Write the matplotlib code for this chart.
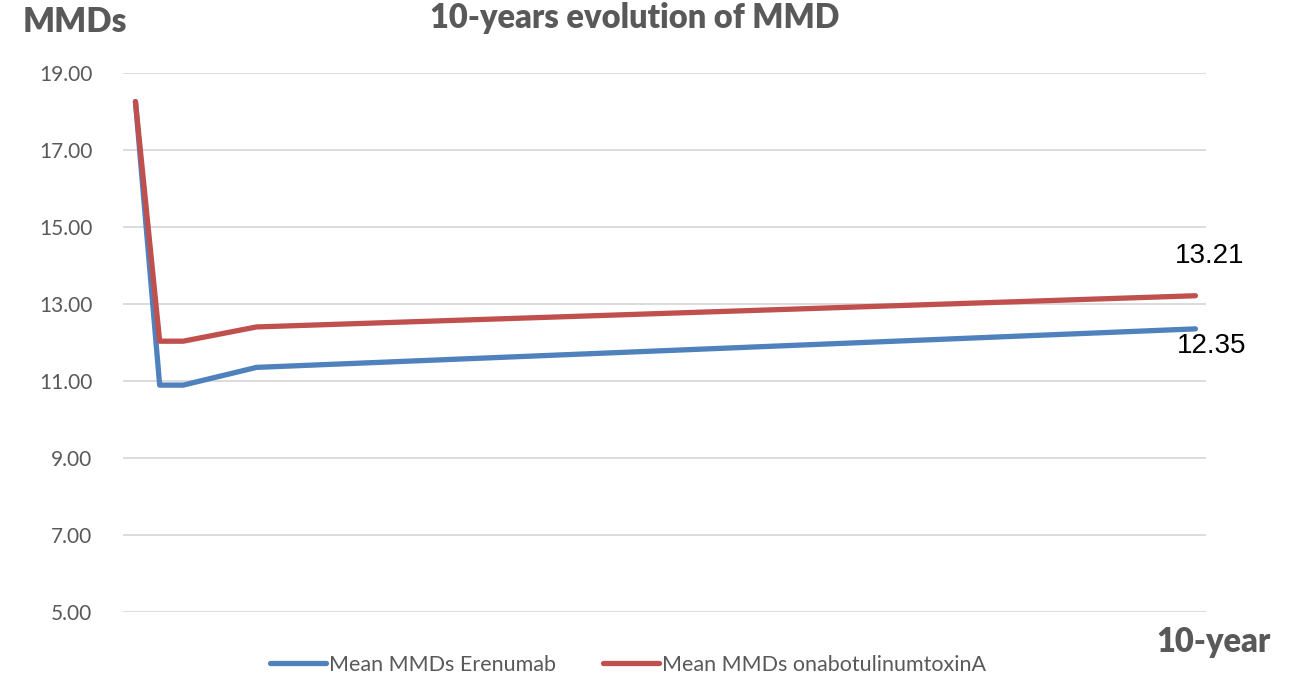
import numpy as np
import matplotlib
matplotlib.use("Agg")
import matplotlib.pyplot as plt

# x positions (relative time steps)
x_steps = [0, 1.03, 2.03, 5.15, 45.1]
erenumab = [18.25, 10.89, 10.89, 11.35, 12.35]
onabot = [18.25, 12.03, 12.03, 12.40, 13.21]
y_ticks = [5, 7, 9, 11, 13, 15, 17, 19]

blue = "#4f81bd"
red = "#c0504d"
gray = "#595959"

plt.rcParams["font.family"] = ["Lato", "DejaVu Sans"]

fig = plt.figure(figsize=(12.91, 6.75), dpi=100)
ax = fig.add_axes([123 / 1291, 63 / 675, (1206 - 123) / 1291, (612 - 72.7) / 675])

ax.plot(x_steps, erenumab, color=blue, lw=3.8, solid_capstyle="round",
        solid_joinstyle="round", label="Mean MMDs Erenumab")
ax.plot(x_steps, onabot, color=red, lw=3.8, solid_capstyle="round",
        solid_joinstyle="round", label="Mean MMDs onabotulinumtoxinA")

ax.set_ylim(5, 19)
ax.set_xlim(-0.53, 45.55)
ax.set_yticks(y_ticks)
ax.set_yticklabels([f"{v:.2f}" for v in y_ticks])
ax.set_xticks([])
ax.tick_params(axis="y", length=0, pad=22, labelsize=15, labelcolor=gray)
ax.grid(axis="y", color="#d9d9d9", lw=1.3)
ax.set_axisbelow(True)
for s in ax.spines.values():
    s.set_visible(False)

# end labels
narrow = ["Liberation Sans Narrow", "Liberation Sans"]
ax.annotate(f"{onabot[-1]:.2f}", (x_steps[-1], onabot[-1]), xytext=(14, 40),
            textcoords="offset pixels", ha="center", va="center",
            fontsize=20, family=narrow, color="black")
ax.annotate(f"{erenumab[-1]:.2f}", (x_steps[-1], erenumab[-1]), xytext=(16, -17),
            textcoords="offset pixels", ha="center", va="center",
            fontsize=20, family=narrow, color="black")

fig.text(635 / 1291, (675 - 28) / 675, "10-years evolution of MMD", ha="center",
         va="baseline", fontsize=23.5, fontweight="heavy", color=gray)
fig.text(23 / 1291, (675 - 32) / 675, "MMDs", ha="left", va="baseline",
         fontsize=24, fontweight="heavy", color=gray)
fig.text(1156 / 1291, (675 - 652) / 675, "10-year", ha="left", va="baseline",
         fontsize=23.5, fontweight="heavy", color=gray)

fig.legend(loc="center", bbox_to_anchor=(628 / 1291, 10 / 675), ncol=2,
           frameon=False, fontsize=15.5, handlelength=2.6, handletextpad=0.12,
           columnspacing=2.2, labelcolor=gray)

fig.savefig("out.png", dpi=100)
